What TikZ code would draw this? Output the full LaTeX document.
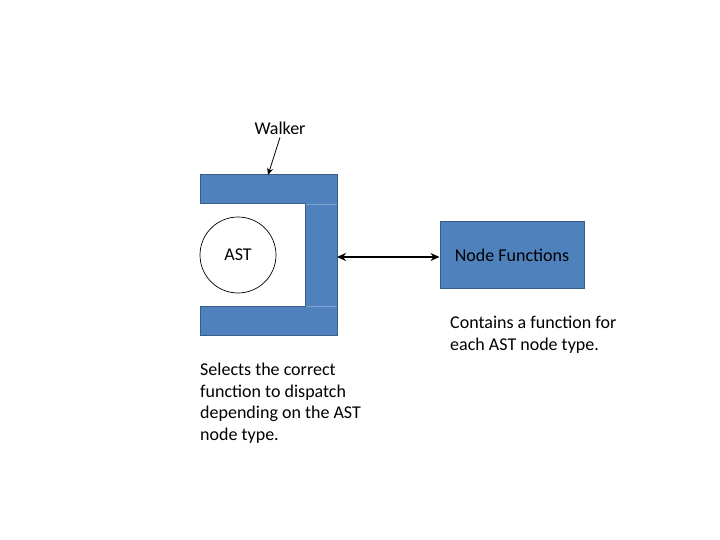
\documentclass[tikz,border=0pt]{standalone}
\usepackage{fontspec}
\setmainfont{Carlito}
\usetikzlibrary{arrows.meta}
\definecolor{bfill}{HTML}{4F81BD}
\definecolor{bline}{HTML}{385D8A}
\definecolor{bseam}{HTML}{7FA3D0}
\begin{document}
\begin{tikzpicture}[x=1pt,y=-1pt,
  txt/.style={font=\fontsize{18}{21.5}\selectfont, inner sep=0pt},
  caption/.style={txt, align=left, anchor=north west},
  arr/.style={-{Stealth[length=7pt,width=6pt]}, line width=0.8pt},
  darr/.style={{Stealth[length=9pt,width=8pt]}-{Stealth[length=9pt,width=8pt]}, line width=2pt}]
\useasboundingbox[fill=white] (0,0) rectangle (720,540);
% Walker shape
\fill[bfill] (200,175) -- (337,175) -- (337,335) -- (200,335) -- (200,306) -- (305,306) -- (305,204) -- (200,204) -- cycle;
\draw[bseam, line width=0.6pt] (305,204) -- (337,204) (305,306) -- (337,306);
\draw[bline, line width=1pt] (200,175) -- (337,175) -- (337,335) -- (200,335) -- (200,306) -- (305,306) -- (305,204) -- (200,204) -- cycle;
\coordinate (wtop) at (268,175);
\coordinate (wright) at (337,257);
% AST circle
\node[draw, circle, line width=0.7pt, minimum size=76pt, txt] (ast) at (238,255) {AST};
% Walker label
\node[txt] (walker) at (280,128) {Walker};
\draw[arr] (walker.south) ++(0,3) coordinate (wfrom) (wfrom) -- (wtop);
% Node functions
\node[draw=bline, fill=bfill, line width=1pt, minimum width=144pt, minimum height=66pt, txt] (nf) at (512,255) {Node Functions};
\draw[darr] (wright) -- (wright -| nf.west);
% Captions
\node[caption] (c1) at (450,316) {Contains a function for\\each AST node type.};
\node[caption] (c2) at (200,363) {Selects the correct\\function to dispatch\\depending on the AST\\node type.};
\end{tikzpicture}
\end{document}
